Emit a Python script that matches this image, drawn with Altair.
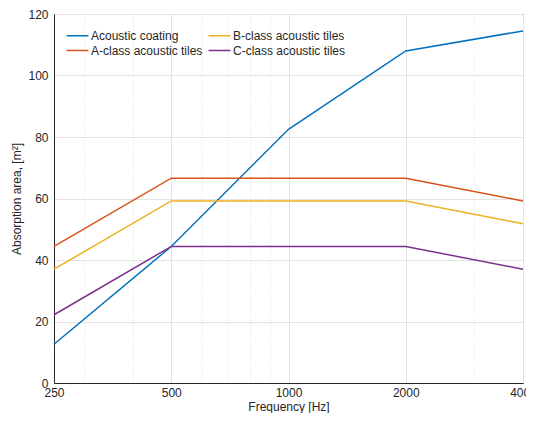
import altair as alt
import pandas as pd

freqs = [250, 500, 1000, 2000, 4000]
coating = [12.6, 44.4, 82.5, 108.0, 114.5]
a_class = [44.4, 66.6, 66.6, 66.6, 59.2]
b_class = [37.0, 59.2, 59.2, 59.2, 51.8]
c_class = [22.2, 44.4, 44.4, 44.4, 37.0]
names = ["Acoustic coating", "A-class acoustic tiles", "B-class acoustic tiles", "C-class acoustic tiles"]
colors = ["#0072BD", "#D95319", "#EDB120", "#7E2F8E"]
major_ticks = [250, 500, 1000, 2000, 4000]
minor_ticks = [300, 400, 600, 700, 800, 900, 3000]

rows = []
for name, vals in zip(names, [coating, a_class, b_class, c_class]):
    for f, v in zip(freqs, vals):
        rows.append({"freq": f, "area": v, "series": name})
df = pd.DataFrame(rows)
minor_df = pd.DataFrame({"freq": minor_ticks})

FONT = "Liberation Sans"
xscale = alt.Scale(type="log", domain=[250, 4000], nice=False)
yscale = alt.Scale(domain=[0, 120], nice=False)

minor_rules = alt.Chart(minor_df).mark_rule(
    color="#d8d8d8", strokeWidth=0.8, strokeDash=[1, 2]
).encode(x=alt.X("freq:Q", scale=xscale))

lines = alt.Chart(df).mark_line(strokeWidth=1.5).encode(
    x=alt.X("freq:Q", scale=xscale, title="Frequency [Hz]",
            axis=alt.Axis(values=major_ticks, format="d", labelFlush=False,
                          ticks=False, labelPadding=4, titlePadding=3,
                          gridColor="#e3e3e3", gridWidth=1)),
    y=alt.Y("area:Q", scale=yscale, title="Absorption area, [m²]",
            axis=alt.Axis(values=[0, 20, 40, 60, 80, 100, 120], ticks=False,
                          labelPadding=6, titlePadding=4,
                          gridColor="#e3e3e3", gridWidth=1)),
    color=alt.Color("series:N",
                    scale=alt.Scale(domain=names, range=colors),
                    legend=alt.Legend(title=None, orient="none", legendX=15, legendY=13,
                                      columns=2, symbolType="M-1.5,0H1.5", symbolSize=215,
                                      symbolStrokeWidth=1.5, labelFontSize=12,
                                      labelFont=FONT, labelColor="#262626",
                                      columnPadding=2, rowPadding=0, labelOffset=5,
                                      padding=0)),
)

chart = alt.layer(minor_rules, lines).properties(
    width=469, height=369,
    autosize=alt.AutoSizeParams(type="none"),
    padding={"left": 46, "top": 6, "right": 3, "bottom": 30},
    background="white",
).configure_view(stroke="#262626", strokeWidth=1).configure_axis(
    labelFont=FONT, titleFont=FONT, labelFontSize=12, titleFontSize=12,
    labelColor="#262626", titleColor="#262626", titleFontWeight="normal",
    domainColor="#262626", domainWidth=1,
)

chart.save("out.html", embed_options={"renderer": "svg", "actions": False})
